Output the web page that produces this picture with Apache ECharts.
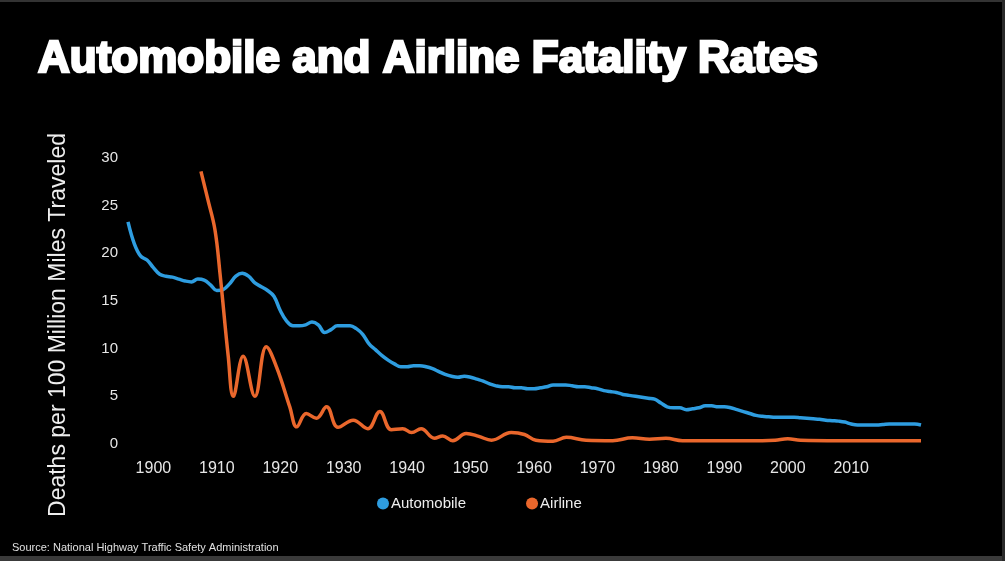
<!DOCTYPE html>
<html>
<head>
<meta charset="utf-8">
<script src="https://cdn.jsdelivr.net/npm/echarts@6.0.0/dist/echarts.min.js"></script>
<style>
  html, body { margin: 0; padding: 0; background: #000; }
  #chart { width: 1005px; height: 561px; }
</style>
</head>
<body>
<div id="chart"></div>
<script>
// 数据：年份与每亿英里死亡人数
var firstAutoYear = 1896;
var autoRates = [
  23.3, 21.0, 19.7, 19.3, 18.5, 17.8, 17.6, 17.5, 17.3, 17.1,   // 1896-1905
  17.0, 17.3, 17.2, 16.7, 16.1, 16.2, 16.8, 17.6, 17.9, 17.6,   // 1906-1915
  16.9, 16.5, 16.1, 15.5, 14.0, 12.9, 12.4, 12.4, 12.5, 12.8,   // 1916-1925
  12.5, 11.7, 12.0, 12.4, 12.4, 12.4, 12.1, 11.5, 10.5, 9.9,    // 1926-1935
  9.3, 8.8, 8.4, 8.1, 8.1, 8.2, 8.2, 8.1, 7.9, 7.6,             // 1936-1945
  7.3, 7.1, 7.0, 7.1, 7.0, 6.8, 6.6, 6.3, 6.1, 6.0,             // 1946-1955
  6.0, 5.9, 5.9, 5.8, 5.8, 5.9, 6.0, 6.2, 6.2, 6.2,             // 1956-1965
  6.1, 6.0, 6.0, 5.9, 5.8, 5.6, 5.5, 5.4, 5.2, 5.1,             // 1966-1975
  5.0, 4.9, 4.8, 4.7, 4.3, 3.9, 3.8, 3.8, 3.6, 3.7,             // 1976-1985
  3.8, 4.0, 4.0, 3.9, 3.9, 3.8, 3.6, 3.4, 3.2, 3.0,             // 1986-1995
  2.9, 2.85, 2.8, 2.8, 2.8, 2.8, 2.75, 2.7, 2.65, 2.6,          // 1996-2005
  2.5, 2.45, 2.4, 2.3, 2.1, 2.0, 2.0, 2.0, 2.0, 2.05,           // 2006-2015
  2.1, 2.1, 2.1, 2.1, 2.1, 2.0                                  // 2016-2021
];

// 航空：按图中转折点读取
var airYears = [
  1907.5, 1908.6, 1909.7, 1910.5, 1911.8, 1912.6, 1914.15, 1916.0, 1917.8, 1919.4,
  1921.5, 1922.6, 1924.1, 1925.7, 1927.3, 1929.1, 1931.5, 1933.8, 1935.7, 1937.5,
  1939.3, 1940.7, 1942.2, 1944.3, 1945.6, 1947.2, 1949.3, 1951.3, 1953.3, 1956.4,
  1958.5, 1960.3, 1963.0, 1965.1, 1968.2, 1972.4, 1975.5, 1978.2, 1980.8, 1983.4,
  1990, 1996, 1998, 2000, 2002, 2008, 2015, 2021
];
var airRates = [
  28.6, 25.6, 22.5, 17.9, 9.2, 5.0, 9.2, 5.0, 10.2, 8.1,
  3.9, 1.8, 3.2, 2.7, 3.9, 1.75, 2.5, 1.6, 3.4, 1.5,
  1.6, 1.2, 1.6, 0.6, 0.85, 0.35, 1.1, 0.8, 0.4, 1.2,
  1.0, 0.4, 0.3, 0.7, 0.4, 0.35, 0.65, 0.5, 0.6, 0.35,
  0.35, 0.35, 0.4, 0.55, 0.4, 0.35, 0.35, 0.35
];

var decadeLabels = [1900, 1910, 1920, 1930, 1940, 1950, 1960, 1970, 1980, 1990, 2000, 2010];
var yTicks = [0, 5, 10, 15, 20, 25, 30];

var autoData = autoRates.map(function (v, i) { return [firstAutoYear + i, v]; });
var airData = airRates.map(function (v, i) { return [airYears[i], v]; });

var chart = echarts.init(document.getElementById('chart'));

var option = {
  backgroundColor: '#000',
  animation: false,
  title: {
    text: 'Automobile and Airline Fatality Rates',
    left: 33,
    top: 33,
    textStyle: {
      color: '#fff',
      fontFamily: 'Liberation Sans',
      fontWeight: 'bold',
      fontSize: 44,
      textBorderColor: '#fff',
      textBorderWidth: 2.5
    }
  },
  legend: {
    left: 372,
    top: 491,
    itemGap: 60,
    itemWidth: 12,
    itemHeight: 12,
    icon: 'circle',
    textStyle: { color: '#eee', fontFamily: 'Liberation Sans', fontSize: 15, padding: [0, 0, 0, -3] },
    data: ['Automobile', 'Airline']
  },
  grid: { left: 128, right: 84, top: 158, bottom: 117 },
  xAxis: {
    type: 'value',
    min: 1896,
    max: 2021,
    axisLine: { show: false },
    axisTick: { show: false },
    splitLine: { show: false },
    axisLabel: {
      customValues: decadeLabels,
      color: '#e6e6e6',
      fontFamily: 'Liberation Sans',
      fontSize: 16,
      margin: 17,
      formatter: function (v) { return String(v); }
    }
  },
  yAxis: {
    type: 'value',
    min: 0,
    max: 30,
    axisLine: { show: false },
    axisTick: { show: false },
    splitLine: { show: false },
    axisLabel: {
      customValues: yTicks,
      color: '#e6e6e6',
      fontFamily: 'Liberation Sans',
      fontSize: 15,
      margin: 10
    }
  },
  graphic: [
    { type: 'rect', shape: { x: 0, y: 0, width: 1005, height: 2 }, style: { fill: '#333' }, silent: true },
    { type: 'rect', shape: { x: 0, y: 556, width: 1005, height: 5 }, style: { fill: '#3a3a3a' }, silent: true },
    { type: 'rect', shape: { x: 1002, y: 0, width: 3, height: 561 }, style: { fill: '#2a2a2a' }, silent: true },
    {
      type: 'text',
      x: 59,
      y: 325,
      rotation: Math.PI / 2,
      style: {
        text: 'Deaths per 100 Million Miles Traveled',
        fill: '#eee',
        font: '23px "Liberation Sans"',
        align: 'center',
        verticalAlign: 'middle'
      }
    },
    {
      type: 'text',
      left: 12,
      top: 542,
      style: {
        text: 'Source: National Highway Traffic Safety Administration',
        fill: '#e0e0e0',
        font: '11px "Liberation Sans"'
      }
    }
  ],
  series: [
    {
      name: 'Automobile',
      type: 'line',
      data: autoData,
      smooth: 0.4,
      showSymbol: false,
      itemStyle: { color: '#2e9de0' },
      lineStyle: { color: '#2e9de0', width: 3.5 }
    },
    {
      name: 'Airline',
      type: 'line',
      data: airData,
      smooth: 0.4,
      showSymbol: false,
      itemStyle: { color: '#ea672c' },
      lineStyle: { color: '#ea672c', width: 3.5 }
    }
  ]
};

chart.setOption(option);
</script>
</body>
</html>
